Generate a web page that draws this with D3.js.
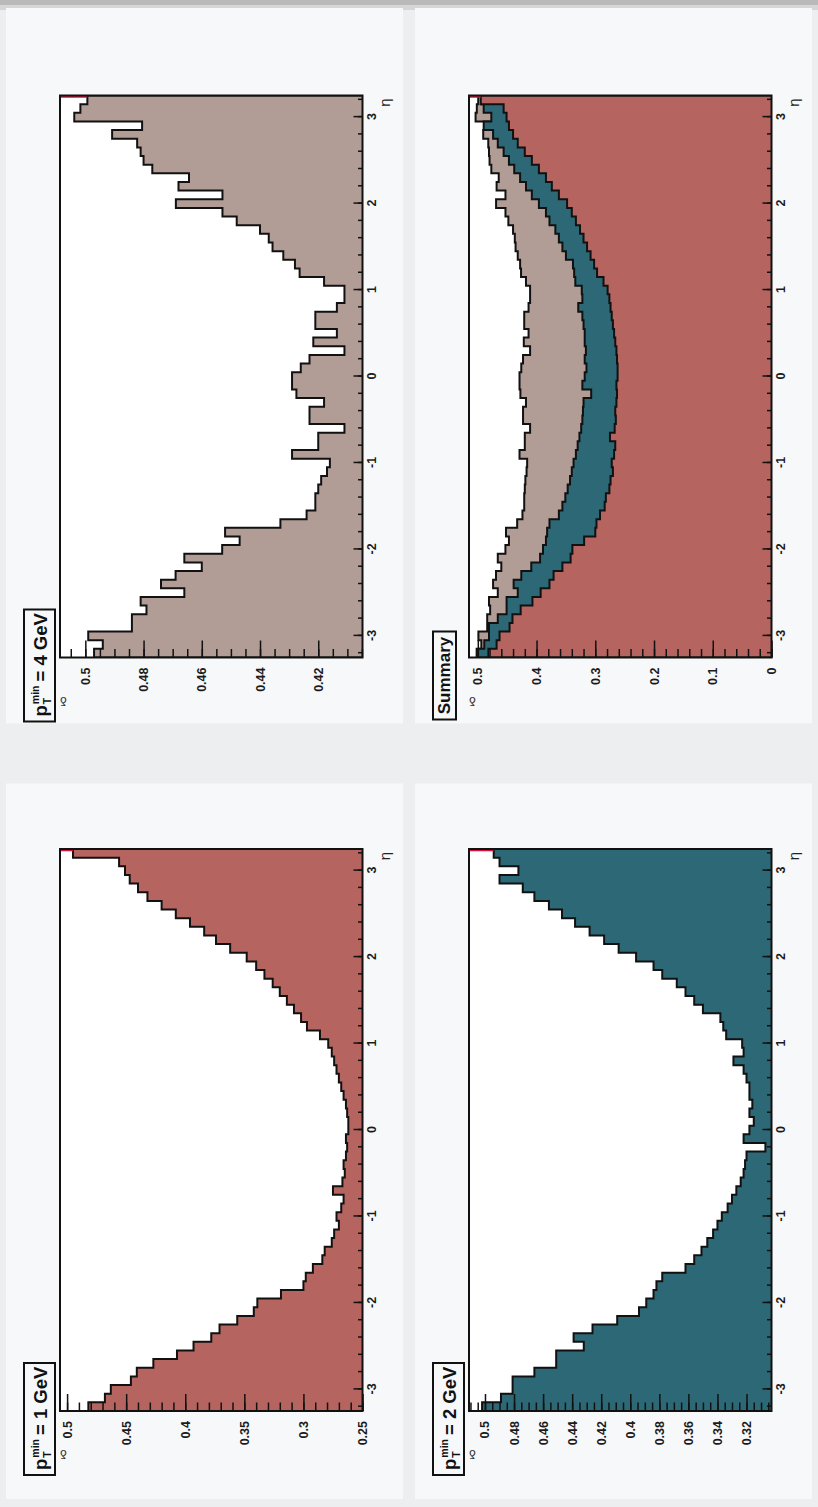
<!DOCTYPE html>
<html>
<head>
<meta charset="utf-8">
<script src="https://cdn.jsdelivr.net/npm/d3@7"></script>
<style>
  body { margin: 0; background: #eef0f1; }
  svg { display: block; }
</style>
</head>
<body>
<svg id="page" width="818" height="1507"></svg>
<script>
// ---- DATA (65 bins of 0.1 in eta, -3.25 .. 3.25) ----
const ETA_RANGE = [-3.25, 3.25];
const N_BINS = 65;
const ETA_TICKS = [-3, -2, -1, 0, 1, 2, 3];

// p_T^min = 1 GeV
const frac1 = [
  0.482, 0.468, 0.463, 0.446, 0.441, 0.427, 0.407, 0.393, 0.378, 0.371,
  0.356, 0.342, 0.339, 0.319, 0.300, 0.298, 0.292, 0.284, 0.282, 0.276,
  0.274, 0.270, 0.272, 0.268, 0.266, 0.275, 0.267, 0.265, 0.266, 0.264,
  0.263, 0.264, 0.262, 0.262, 0.263, 0.264, 0.266, 0.268, 0.270, 0.272,
  0.274, 0.276, 0.279, 0.286, 0.297, 0.302, 0.308, 0.314, 0.320, 0.326,
  0.333, 0.340, 0.348, 0.362, 0.374, 0.384, 0.396, 0.408, 0.420, 0.432,
  0.440, 0.447, 0.451, 0.456, 0.495
];
// p_T^min = 2 GeV
const frac2 = [
  0.502, 0.489, 0.481, 0.481, 0.466, 0.451, 0.451, 0.432, 0.439, 0.426,
  0.409, 0.394, 0.389, 0.384, 0.382, 0.378, 0.362, 0.356, 0.351, 0.347,
  0.343, 0.340, 0.337, 0.333, 0.330, 0.327, 0.324, 0.322, 0.321, 0.320,
  0.307, 0.322, 0.318, 0.315, 0.318, 0.316, 0.318, 0.318, 0.320, 0.322,
  0.329, 0.322, 0.323, 0.334, 0.336, 0.338, 0.350, 0.356, 0.362, 0.368,
  0.378, 0.384, 0.396, 0.408, 0.418, 0.428, 0.438, 0.447, 0.456, 0.466,
  0.474, 0.490, 0.477, 0.490, 0.494
];
// p_T^min = 4 GeV
const frac4 = [
  0.497, 0.494, 0.499, 0.484, 0.484, 0.479, 0.481, 0.466, 0.474, 0.469,
  0.460, 0.466, 0.453, 0.447, 0.452, 0.433, 0.424, 0.421, 0.421, 0.420,
  0.419, 0.417, 0.416, 0.429, 0.420, 0.420, 0.411, 0.423, 0.423, 0.418,
  0.4275, 0.429, 0.429, 0.426, 0.423, 0.411, 0.4217, 0.4136, 0.421, 0.421,
  0.4136, 0.411, 0.411, 0.418, 0.4264, 0.428, 0.432, 0.4357, 0.437, 0.440,
  0.448, 0.4529, 0.4689, 0.4529, 0.468, 0.4644, 0.477, 0.480, 0.481, 0.4822,
  0.4908, 0.4805, 0.5038, 0.5017, 0.4993
];

const ticks1 = [0.25, 0.3, 0.35, 0.4, 0.45, 0.5];
const ticks2 = [0.32, 0.34, 0.36, 0.38, 0.4, 0.42, 0.44, 0.46, 0.48, 0.5];
const ticks4 = [0.42, 0.44, 0.46, 0.48, 0.5];
const ticksS = [0, 0.1, 0.2, 0.3, 0.4, 0.5];

// ---- STYLE ----
const C1 = "#b5645f", C2 = "#2c6876", C4 = "#b29d96";
const FONT = "'Liberation Sans', Arial, Helvetica, sans-serif";

// page is drawn landscape and turned a quarter turn, like the scan
const PAGE_W = 1507, PAGE_H = 818;
const PAD_W = PAGE_W / 2, PAD_H = 409;
const F = { x0: 96, x1: 658, y0: 60, y1: 362.5 };

const panels = [
  { pt: "1", col: 0, row: 0, hists: [[frac1, C1]], domain: [0.25, 0.506], ticks: ticks1, minor: 0.01 },
  { pt: "4", col: 1, row: 0, hists: [[frac4, C4]], domain: [0.4048, 0.5087], ticks: ticks4, minor: 0.005 },
  { pt: "2", col: 0, row: 1, hists: [[frac2, C2]], domain: [0.3028, 0.511], ticks: ticks2, minor: 0.005 },
  { text: "Summary", col: 1, row: 1, hists: [[frac4, C4], [frac2, C2], [frac1, C1]], domain: [0, 0.515], ticks: ticksS, minor: 0.02 }
];

const edges = d3.range(N_BINS + 1).map(i => ETA_RANGE[0] + i * (ETA_RANGE[1] - ETA_RANGE[0]) / N_BINS);
const fmt = d => String(+d.toFixed(3));

const svg = d3.select("#page");

// scan background + grey edge at the top
svg.append("rect").attr("width", 818).attr("height", 1507).attr("fill", "#eceef0");
svg.append("rect").attr("width", 818).attr("height", 5).attr("fill", "#b9b9b9");
svg.append("rect").attr("y", 5).attr("width", 818).attr("height", 5).attr("fill", "#d5d6d7");

const page = svg.append("g").attr("transform", `translate(0,${PAGE_W}) rotate(-90)`);

panels.forEach((p, k) => {
  const g = page.append("g")
    .attr("transform", `translate(${p.col * PAD_W},${p.row * PAD_H})`);

  // pad
  g.append("rect")
    .attr("x", p.col ? 30 : 8).attr("y", 6)
    .attr("width", PAD_W - 38).attr("height", PAD_H - 12)
    .attr("fill", "#f7f8f9");

  const x = d3.scaleLinear().domain(ETA_RANGE).range([F.x0, F.x1]);
  const y = d3.scaleLinear().domain(p.domain).range([F.y1, F.y0]);

  g.append("rect")
    .attr("x", F.x0).attr("y", F.y0)
    .attr("width", F.x1 - F.x0).attr("height", F.y1 - F.y0)
    .attr("fill", "#fff");

  const clipId = "clip" + k;
  g.append("clipPath").attr("id", clipId)
    .append("rect")
    .attr("x", F.x0).attr("y", F.y0)
    .attr("width", F.x1 - F.x0).attr("height", F.y1 - F.y0);

  const hg = g.append("g").attr("clip-path", `url(#${clipId})`);

  const area = d3.area().x(d => x(d[0])).y0(y(p.domain[0])).y1(d => y(d[1]));
  const line = d3.line().x(d => x(d[0])).y(d => y(d[1]));

  p.hists.forEach(([data, color]) => {
    const pts = [];
    data.forEach((v, i) => { pts.push([edges[i], v], [edges[i + 1], v]); });
    hg.append("path").attr("d", area(pts)).attr("fill", color);
    const outline = [[edges[0], p.domain[0]], ...pts, [edges[N_BINS], p.domain[0]]];
    hg.append("path").attr("d", line(outline))
      .attr("fill", "none").attr("stroke", "#111").attr("stroke-width", 2);
  });

  // red stub above the last bin
  const last = p.hists[p.hists.length - 1][0];
  hg.append("line")
    .attr("x1", x(edges[N_BINS]) - 1).attr("x2", x(edges[N_BINS]) - 1)
    .attr("y1", y(last[N_BINS - 1])).attr("y2", F.y0)
    .attr("stroke", "#d8123a").attr("stroke-width", 2.5);

  // value axis, ticks inside the frame
  const minorVals = d3.range(Math.ceil(p.domain[0] / p.minor - 1e-6), Math.floor(p.domain[1] / p.minor + 1e-6) + 1)
    .map(i => i * p.minor);
  g.append("g").attr("transform", `translate(${F.x0},0)`)
    .call(d3.axisLeft(y).tickValues(minorVals).tickSize(-8.5).tickSizeOuter(0).tickFormat(""))
    .call(s => s.select(".domain").remove());
  const ya = g.append("g").attr("transform", `translate(${F.x0},0)`)
    .call(d3.axisLeft(y).tickValues(p.ticks).tickSize(-17).tickSizeOuter(0).tickPadding(10).tickFormat(fmt))
    .call(s => s.select(".domain").remove());

  // eta axis
  const etaMinor = d3.range(-16, 17).map(i => i * 0.2);
  g.append("g").attr("transform", `translate(0,${F.y1})`)
    .call(d3.axisBottom(x).tickValues(etaMinor).tickSize(-4.5).tickSizeOuter(0).tickFormat(""))
    .call(s => s.select(".domain").remove());
  const xa = g.append("g").attr("transform", `translate(0,${F.y1})`)
    .call(d3.axisBottom(x).tickValues(ETA_TICKS).tickSize(-9).tickSizeOuter(0).tickPadding(5).tickFormat(d => d))
    .call(s => s.select(".domain").remove());

  g.selectAll(".tick line").attr("stroke", "#111").attr("stroke-width", 1.5);
  [ya, xa].forEach(a => a.selectAll("text")
    .attr("font-family", FONT).attr("font-size", 12.5).attr("font-weight", "bold").attr("fill", "#1b1b1b"));

  // frame
  g.append("rect")
    .attr("x", F.x0).attr("y", F.y0)
    .attr("width", F.x1 - F.x0).attr("height", F.y1 - F.y0)
    .attr("fill", "none").attr("stroke", "#111").attr("stroke-width", 2);

  // axis titles
  g.append("text")
    .attr("x", F.x1 - 3).attr("y", F.y1 + 27)
    .attr("text-anchor", "end")
    .attr("font-family", FONT).attr("font-size", 15).attr("fill", "#222")
    .text("η");
  g.append("text")
    .attr("transform", `translate(${F.x0 - 39},${F.y0}) rotate(-90)`)
    .attr("text-anchor", "end")
    .attr("font-family", FONT).attr("font-size", 12).attr("fill", "#333")
    .text("δ");

  // title box
  const bx = 32, by = 24;
  const tg = g.append("g");
  if (p.pt) {
    tg.append("rect").attr("x", bx).attr("y", by).attr("width", 112).attr("height", 31)
      .attr("fill", "#f7f8f9").attr("stroke", "#111").attr("stroke-width", 2);
    const t0 = bx + 5, base = by + 23;
    const big = s => tg.append("text").attr("font-family", FONT).attr("font-weight", "bold")
      .attr("font-size", 18.5).attr("fill", "#111").attr("y", base).text(s);
    const small = s => tg.append("text").attr("font-family", FONT).attr("font-weight", "bold")
      .attr("font-size", 10.5).attr("fill", "#111").text(s);
    const pT = big("p").attr("x", t0);
    const wp = pT.node().getComputedTextLength();
    const sup = small("min").attr("x", t0 + wp + 1).attr("y", base - 8.5);
    small("T").attr("x", t0 + wp + 1).attr("y", base + 4);
    const wm = sup.node().getComputedTextLength();
    big(`= ${p.pt} GeV`).attr("x", t0 + wp + wm + 5);
  } else {
    tg.append("rect").attr("x", bx + 2).attr("y", by).attr("width", 88).attr("height", 23)
      .attr("fill", "#f7f8f9").attr("stroke", "#111").attr("stroke-width", 2);
    tg.append("text").attr("x", bx + 46).attr("y", by + 17)
      .attr("text-anchor", "middle")
      .attr("font-family", FONT).attr("font-weight", "bold").attr("font-size", 17).attr("fill", "#111")
      .text(p.text);
  }
});
</script>
</body>
</html>
